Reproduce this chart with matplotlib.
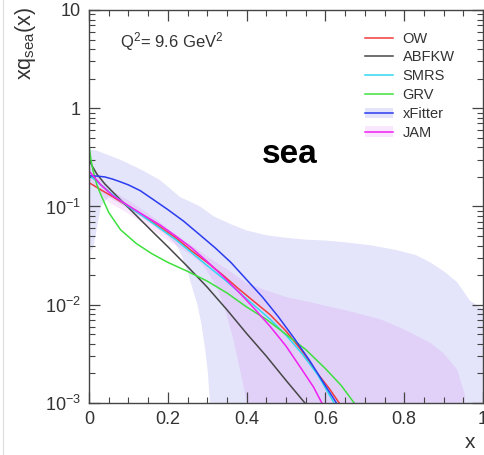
import numpy as np
import matplotlib
matplotlib.use("Agg")
import matplotlib.pyplot as plt
from matplotlib.lines import Line2D
from matplotlib.patches import Patch
from matplotlib.ticker import LogLocator, MultipleLocator, NullFormatter

plt.rcParams["font.family"] = ["Liberation Sans", "DejaVu Sans"]
plt.rcParams["mathtext.fontset"] = "custom"
plt.rcParams["mathtext.rm"] = "Liberation Sans"
plt.rcParams["mathtext.it"] = "Liberation Sans:italic"
plt.rcParams["mathtext.bf"] = "Liberation Sans:bold"

# --- curves (x, xq_sea) ---
ow_x = [0, 0.03, 0.06, 0.1, 0.14, 0.18, 0.22, 0.26, 0.3, 0.34, 0.38, 0.42, 0.46, 0.5, 0.54, 0.58, 0.61, 0.635]
ow_y = [0.175, 0.148, 0.126, 0.10, 0.079, 0.062, 0.048, 0.0355, 0.027, 0.020, 0.0145, 0.0107,
        0.0079, 0.0054, 0.0034, 0.0020, 0.0014, 0.001]

abfkw_x = [0, 0.01, 0.02, 0.04, 0.08, 0.12, 0.16, 0.2, 0.25, 0.3, 0.35, 0.4, 0.45, 0.5, 0.548]
abfkw_y = [0.30, 0.25, 0.214, 0.17, 0.117, 0.081, 0.056, 0.039, 0.0245, 0.0151, 0.0089, 0.0051,
           0.0030, 0.0017, 0.001]

smrs_x = [0, 0.03, 0.06, 0.1, 0.14, 0.18, 0.22, 0.26, 0.3, 0.34, 0.38, 0.42, 0.46, 0.5, 0.54, 0.58, 0.622]
smrs_y = [0.21, 0.166, 0.132, 0.10, 0.078, 0.060, 0.046, 0.034, 0.025, 0.0186, 0.0135, 0.0098,
          0.0071, 0.0049, 0.0032, 0.00195, 0.001]

grv_x = [0, 0.005, 0.01, 0.02, 0.03, 0.05, 0.08, 0.12, 0.16, 0.2, 0.25, 0.3, 0.35, 0.4, 0.45,
         0.5, 0.55, 0.6, 0.64, 0.673]
grv_y = [0.42, 0.30, 0.234, 0.166, 0.132, 0.087, 0.058, 0.042, 0.033, 0.027, 0.0219, 0.0174,
         0.0132, 0.0095, 0.0071, 0.0050, 0.0035, 0.00224, 0.00151, 0.001]

xfit_x = [0, 0.02, 0.04, 0.06, 0.08, 0.1, 0.13, 0.16, 0.2, 0.24, 0.28, 0.32, 0.36, 0.4, 0.44,
          0.48, 0.52, 0.56, 0.6, 0.628]
xfit_y = [0.205, 0.204, 0.20, 0.19, 0.178, 0.166, 0.145, 0.12, 0.093, 0.071, 0.052, 0.038, 0.027,
          0.018, 0.012, 0.0076, 0.0046, 0.0027, 0.0015, 0.001]

jam_x = [0, 0.03, 0.06, 0.1, 0.14, 0.18, 0.22, 0.26, 0.3, 0.34, 0.38, 0.42, 0.46, 0.5, 0.54, 0.57, 0.591]
jam_y = [0.23, 0.166, 0.129, 0.102, 0.081, 0.065, 0.050, 0.038, 0.0275, 0.0195, 0.0135, 0.0091,
         0.006, 0.0038, 0.0022, 0.00145, 0.001]

# --- uncertainty bands ---
xfit_up_x = [0, 0.02, 0.079, 0.13, 0.18, 0.231, 0.282, 0.315, 0.36, 0.4, 0.45, 0.5, 0.55, 0.6,
             0.655, 0.72, 0.78, 0.83, 0.866, 0.9, 0.934, 0.967, 1.0]
xfit_up_y = [0.38, 0.37, 0.30, 0.24, 0.186, 0.125, 0.10, 0.08, 0.066, 0.057, 0.051, 0.048, 0.046,
             0.045, 0.043, 0.040, 0.036, 0.032, 0.027, 0.022, 0.017, 0.011, 0.009]
xfit_lo_x = [0, 0.006, 0.012, 0.02, 0.03, 0.05, 0.1, 0.15, 0.2, 0.223, 0.236, 0.249, 0.264,
             0.274, 0.285, 0.295, 0.302, 0.307, 0.31, 1.0]
xfit_lo_y = [0.05, 0.035, 0.04, 0.06, 0.10, 0.125, 0.095, 0.07, 0.05, 0.04, 0.031, 0.0226, 0.014,
             0.0105, 0.0065, 0.0035, 0.002, 0.001, 1e-5, 1e-5]

jam_up_x = [0, 0.05, 0.1, 0.15, 0.2, 0.25, 0.3, 0.35, 0.4, 0.45, 0.5, 0.57, 0.65, 0.74, 0.8,
            0.866, 0.9, 0.934, 0.954, 0.96]
jam_up_y = [0.26, 0.15, 0.115, 0.085, 0.06, 0.043, 0.031, 0.023, 0.0166, 0.014, 0.012, 0.0104,
            0.0088, 0.0071, 0.0056, 0.0041, 0.0032, 0.0022, 0.0012, 1e-5]
jam_lo_x = [0, 0.05, 0.1, 0.15, 0.2, 0.25, 0.282, 0.3, 0.325, 0.345, 0.365, 0.38, 0.392, 0.4, 0.41]
jam_lo_y = [0.19, 0.11, 0.085, 0.062, 0.045, 0.034, 0.027, 0.022, 0.015, 0.009, 0.0047, 0.0025,
            0.0015, 0.001, 1e-5]

names = ["OW", "ABFKW", "SMRS", "GRV", "xFitter", "JAM"]
colors = ["#f03c3c", "#474747", "#30d8f0", "#3ee03e", "#2a3cf0", "#f020f0"]
xfit_band = "#e4e4fa"
jam_band = "#d040f0"

fig = plt.figure(figsize=(4.84, 4.55), dpi=100)
ax = fig.add_axes([89 / 484, 52 / 455, 394 / 484, 393 / 455])

# bands
ax.fill(np.concatenate([xfit_up_x, xfit_lo_x[::-1]]),
        np.concatenate([xfit_up_y, xfit_lo_y[::-1]]),
        color=xfit_band, lw=0)
ax.fill(np.concatenate([jam_up_x, jam_lo_x[::-1]]),
        np.concatenate([jam_up_y, jam_lo_y[::-1]]),
        color=jam_band, alpha=0.12, lw=0)

# curves
curves = [(ow_x, ow_y), (abfkw_x, abfkw_y), (smrs_x, smrs_y),
          (grv_x, grv_y), (xfit_x, xfit_y), (jam_x, jam_y)]
for (cx, cy), c in zip(curves, colors):
    ax.plot(cx, cy, color=c, lw=1.1, solid_joinstyle="round")

ax.set_yscale("log")
ax.set_xlim(0, 1)
ax.set_ylim(1e-3, 10)
ax.set_yticks([1e-3, 1e-2, 1e-1, 1, 10])
ax.set_yticklabels(["10$^{-3}$", "10$^{-2}$", "10$^{-1}$", "1", "10"])
ax.yaxis.set_minor_locator(LogLocator(base=10, subs=np.arange(2, 10)))
ax.yaxis.set_minor_formatter(NullFormatter())
ax.set_xticks([0, 0.2, 0.4, 0.6, 0.8, 1.0])
ax.set_xticklabels(["0", "0.2", "0.4", "0.6", "0.8", "1"])
ax.xaxis.set_minor_locator(MultipleLocator(0.05))

ax.tick_params(which="both", direction="in", top=True, right=True,
               color="#444444", labelcolor="#333333", labelsize=13, pad=6)
ax.tick_params(which="major", length=8, width=0.9)
ax.tick_params(which="minor", length=4.5, width=0.8)
for sp in ax.spines.values():
    sp.set_color("#444444")
    sp.set_linewidth(1.0)

# legend
handles = []
for n, c in zip(names, colors):
    ln = Line2D([], [], color=c, lw=1.1)
    if n == "xFitter":
        handles.append((Patch(facecolor=xfit_band, lw=0), ln))
    elif n == "JAM":
        handles.append((Patch(facecolor=jam_band, alpha=0.12, lw=0), ln))
    else:
        handles.append(ln)
ax.legend(handles, names, loc="upper left", bbox_to_anchor=(0.70, 0.945),
          frameon=False, fontsize=10.5, handlelength=1.9, handletextpad=0.7,
          labelspacing=0.33, borderpad=0, borderaxespad=0, labelcolor="#333333")

ax.text(0.079, 0.906, "Q$^2$= 9.6 GeV$^2$", transform=ax.transAxes,
        fontsize=12, color="#333333", va="baseline", ha="left")
ax.text(0.51, 0.61, "sea", transform=ax.transAxes, fontsize=24,
        fontweight="bold", color="black", ha="center", va="baseline")

fig.text(25 / 484, 1 - 7 / 455, "xq$_{\\mathregular{sea}}$(x)", rotation=90,
         ha="center", va="top", fontsize=15.5, color="#333333")
fig.text(470 / 484, 1 - 443 / 455, "x", ha="center", va="center",
         fontsize=15, color="#333333")

fig.add_artist(Line2D([3 / 484, 3 / 484], [0, 1], color="#dddddd", lw=0.8))

fig.savefig("out.png", dpi=100)
